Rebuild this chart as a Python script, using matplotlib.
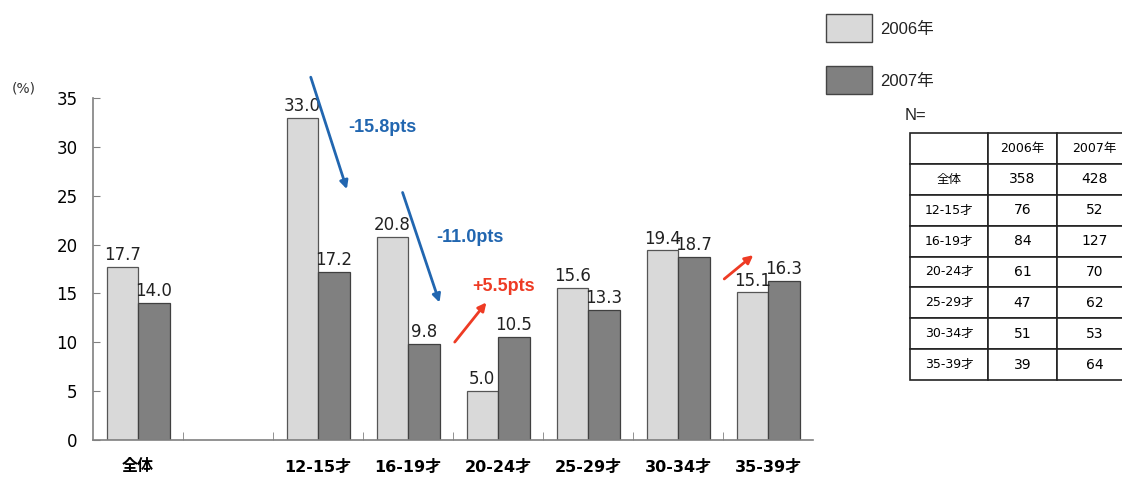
import numpy as np
import matplotlib
matplotlib.use("Agg")
import matplotlib.pyplot as plt
from matplotlib.patches import Rectangle

# ---- data ----
categories = ['全体', '12-15才', '16-19才', '20-24才', '25-29才', '30-34才', '35-39才']
vals_2006 = [17.7, 33.0, 20.8, 5.0, 15.6, 19.4, 15.1]
vals_2007 = [14.0, 17.2, 9.8, 10.5, 13.3, 18.7, 16.3]
series_names = ['2006年', '2007年']
n_2006 = [358, 76, 84, 61, 47, 51, 39]
n_2007 = [428, 52, 127, 70, 62, 53, 64]
yticks = [0, 5, 10, 15, 20, 25, 30, 35]

# change annotations: (category index, label, colour)
changes = [(1, '-15.8pts', '#2166b0'), (2, '-11.0pts', '#2166b0'), (3, '+5.5pts', '#ee3b24')]

FONT = ['DejaVu Sans', 'Noto Sans CJK JP']
ARIAL = ['Liberation Sans', 'Noto Sans CJK JP']
plt.rcParams['font.family'] = FONT

c06, c07 = '#d9d9d9', '#808080'

fig = plt.figure(figsize=(11.22, 4.78), dpi=100)
ax = fig.add_axes([93 / 1122, 1 - 440 / 478, 720 / 1122, 342 / 478])

# slot 1 is left empty between 全体 and the age groups
xpos = np.array([0] + list(range(2, 2 + len(categories) - 1)), dtype=float)
w = 0.35
b1 = ax.bar(xpos - w / 2, vals_2006, w, color=c06, edgecolor='#555555', linewidth=0.9)
b2 = ax.bar(xpos + w / 2, vals_2007, w, color=c07, edgecolor='#404040', linewidth=0.9)

for x, v in zip(xpos - w / 2, vals_2006):
    ax.text(x, v + 0.3, f'{v:.1f}', ha='center', va='bottom', fontsize=12, color='#222222')
for x, v in zip(xpos + w / 2, vals_2007):
    ax.text(x, v + 0.3, f'{v:.1f}', ha='center', va='bottom', fontsize=12, color='#222222')

ax.set_xlim(-0.5, 7.5)
ax.set_ylim(0, 35)
ax.set_yticks(yticks)
ax.set_xticks(xpos)
ax.set_xticklabels(categories, fontsize=11.5, fontweight='bold', family=FONT)
ax.tick_params(axis='x', length=0, pad=14)
ax.set_xticks(np.arange(0.5, 7.5, 1.0), minor=True)
ax.tick_params(axis='x', which='minor', direction='in', length=6, color='#808080')
ax.tick_params(axis='y', direction='in', length=5, color='#808080', labelsize=12, pad=11)
for s in ['top', 'right']:
    ax.spines[s].set_visible(False)
for s in ['left', 'bottom']:
    ax.spines[s].set_color('#808080')
    ax.spines[s].set_linewidth(1.2)

fig.text(12 / 1122, 1 - 88 / 478, '(%)', fontsize=10, va='center', color='#333333')

# change arrows
arr = dict(arrowstyle='-|>', lw=2, mutation_scale=12)
i12 = xpos[1]
ax.annotate('', xy=(i12 + 0.33, 25.4), xytext=(i12 - 0.09, 37.4),
            arrowprops=dict(arr, color=changes[0][2]), annotation_clip=False)
ax.text(i12 + 0.71, 32.0, changes[0][1], color=changes[0][2], fontsize=13,
        fontweight='bold', family=ARIAL, ha='center', va='center')
i16 = xpos[2]
ax.annotate('', xy=(i16 + 0.36, 13.8), xytext=(i16 - 0.07, 25.6),
            arrowprops=dict(arr, color=changes[1][2]))
ax.text(i16 + 0.69, 20.7, changes[1][1], color=changes[1][2], fontsize=13,
        fontweight='bold', family=ARIAL, ha='center', va='center')
i20 = xpos[3]
ax.annotate('', xy=(i20 - 0.11, 14.3), xytext=(i20 - 0.5, 9.8),
            arrowprops=dict(arr, color=changes[2][2]))
ax.text(i20 + 0.06, 15.7, changes[2][1], color=changes[2][2], fontsize=13,
        fontweight='bold', family=ARIAL, ha='center', va='center')
i35 = xpos[6]
ax.annotate('', xy=(i35 - 0.14, 19.1), xytext=(i35 - 0.51, 16.3),
            arrowprops=dict(arr, color='#ee3b24'))

# legend drawn as figure patches
for (y0, col, name) in [(14, c06, series_names[0]), (66, c07, series_names[1])]:
    fig.patches.append(Rectangle((826 / 1122, 1 - (y0 + 28) / 478), 46 / 1122, 28 / 478,
                                 transform=fig.transFigure, facecolor=col,
                                 edgecolor='#444444', linewidth=1))
    fig.text(880 / 1122, 1 - (y0 + 15) / 478, name, fontsize=12, va='center',
             family=ARIAL, color='#222222')

fig.text(905 / 1122, 1 - 115 / 478, 'N=', fontsize=12, va='center', family=ARIAL, color='#222222')

# sample size table
tax = fig.add_axes([910 / 1122, 1 - 380 / 478, 222 / 1122, 247 / 478])
tax.axis('off')
cells = [['', series_names[0], series_names[1]]]
for c, a, b in zip(categories, n_2006, n_2007):
    cells.append([c, str(a), str(b)])
tbl = tax.table(cellText=cells, bbox=[0, 0, 1, 1], cellLoc='center',
                colWidths=[78, 69, 75])
tbl.auto_set_font_size(False)
for (r, c), cell in tbl.get_celld().items():
    cell.set_edgecolor('#222222')
    cell.set_linewidth(1.2)
    txt = cell.get_text()
    txt.set_fontfamily(['DejaVu Sans', 'Noto Sans CJK JP'])
    if r == 0 or c == 0:
        txt.set_fontsize(9)
    else:
        txt.set_fontsize(10)

fig.savefig('out.png', dpi=100)
